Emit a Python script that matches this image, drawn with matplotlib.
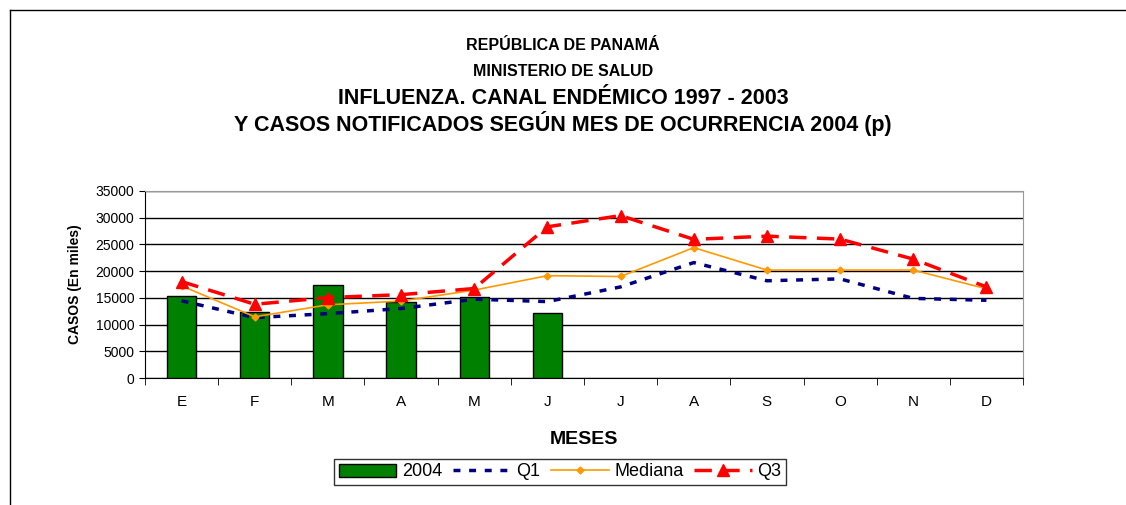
import matplotlib.pyplot as plt
from matplotlib.lines import Line2D
import numpy as np

plt.rcParams['font.family'] = ['Liberation Sans', 'DejaVu Sans']

meses = ["E", "F", "M", "A", "M", "J", "J", "A", "S", "O", "N", "D"]
casos_2004 = [15300, 12400, 17450, 14150, 15200, 12150]
q1 = [14450, 11300, 12050, 13000, 14750, 14300, 17050, 21600, 18200, 18550, 14900, 14550]
mediana = [17250, 11450, 13700, 14400, 16450, 19150, 19000, 24400, 20200, 20200, 20200, 16700]
q3 = [18050, 13800, 15050, 15600, 16750, 28300, 30400, 25950, 26550, 26000, 22250, 17050]
y_ticks = [0, 5000, 10000, 15000, 20000, 25000, 30000, 35000]

fig = plt.figure(figsize=(11.26, 5.05), dpi=100)
ax = fig.add_axes([145/1126, 1-378/505, 878/1126, 187/505])

x = np.arange(len(meses))
b = ax.bar(x[:len(casos_2004)], casos_2004, width=0.4, color="#008000", edgecolor="black", linewidth=1, label="2004", zorder=3)
l1, = ax.plot(x, q1, color="#000080", linestyle=(0, (2, 2.5)), linewidth=2.5, label="Q1", zorder=4)
l2, = ax.plot(x, mediana, color="#FF9900", linewidth=1.2, marker="D", markersize=3.5, label="Mediana", zorder=5)
l3, = ax.plot(x, q3, color="#FF0000", linestyle=(0, (5, 3)), linewidth=2.5, marker="^", markersize=8, label="Q3", zorder=6)

ax.set_xlim(-0.5, len(meses)-0.5)
ax.set_ylim(0, 35000)
ax.set_yticks(y_ticks)
ax.set_yticklabels([str(v) for v in y_ticks], fontsize=10)
ax.yaxis.grid(True, color="black", linewidth=1, zorder=0)
ax.set_axisbelow(True)
ax.set_xticks(x)
ax.set_xticklabels(meses, fontsize=11)
ax.set_xticks(np.arange(-0.5, len(meses)), minor=True)
ax.tick_params(axis="x", which="major", length=0, pad=12)
ax.tick_params(axis="x", which="minor", length=5, direction="out")
ax.tick_params(axis="y", length=4, direction="out")
for s in ("top", "right"):
    ax.spines[s].set_color("#999999")
ax.spines["left"].set_color("black")
ax.spines["bottom"].set_color("black")

ax.set_ylabel("CASOS (En miles)", fontsize=10, fontweight="bold", labelpad=10)
ax.set_xlabel("MESES", fontsize=14, fontweight="bold", labelpad=16)

fig.text(0.5, 1-45/505, "REPÚBLICA DE PANAMÁ", ha="center", va="center", fontsize=11.5, fontweight="bold")
fig.text(0.5, 1-71/505, "MINISTERIO DE SALUD", ha="center", va="center", fontsize=11.5, fontweight="bold")
fig.text(0.5, 1-98/505, "INFLUENZA. CANAL ENDÉMICO 1997 - 2003", ha="center", va="center", fontsize=15.5, fontweight="bold")
fig.text(0.5, 1-124/505, "Y CASOS NOTIFICADOS SEGÚN MES DE OCURRENCIA 2004 (p)", ha="center", va="center", fontsize=15.5, fontweight="bold")

# chart area frame (only top and left visible)
fig.add_artist(Line2D([10/1126, 1], [1-10/505, 1-10/505], color="black", linewidth=1))
fig.add_artist(Line2D([10/1126, 10/1126], [0, 1-10/505], color="black", linewidth=1))

leg = fig.legend([b, l1, l2, l3], ["2004", "Q1", "Mediana", "Q3"], loc="center",
                 bbox_to_anchor=(560/1126, 1-472/505), ncol=4, fontsize=13,
                 frameon=True, fancybox=False, edgecolor="black", handlelength=3.2,
                 handletextpad=0.3, columnspacing=0.6, borderpad=0.25)
leg.get_frame().set_linewidth(1)

fig.savefig("out.png", dpi=100)
